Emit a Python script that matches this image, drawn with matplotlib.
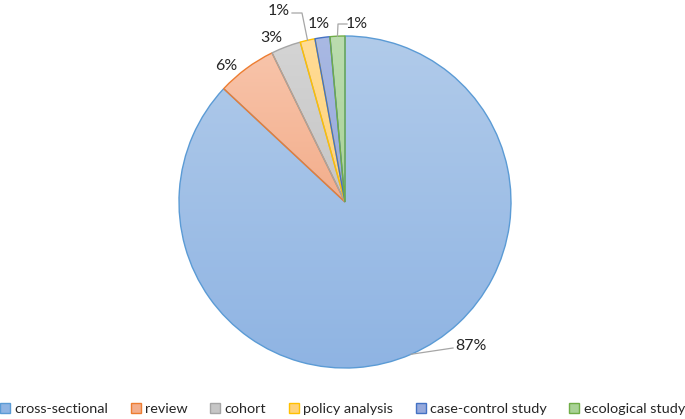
import numpy as np
import matplotlib.pyplot as plt
from matplotlib.colors import LinearSegmentedColormap
from matplotlib.patches import Patch

plt.rcParams['font.family'] = ['Lato', 'DejaVu Sans']

# data
categories = ["cross-sectional", "review", "cohort", "policy analysis",
              "case-control study", "ecological study"]
counts = [60, 4, 2, 1, 1, 1]
pct_labels = ["87%", "6%", "3%", "1%", "1%", "1%"]

# style
edge_colors = ["#5b9bd5", "#ed7d31", "#a5a5a5", "#ffc000", "#4472c4", "#70ad47"]
fill_top = ["#b1cbea", "#f8c4aa", "#d4d4d4", "#ffdc96", "#a9b9e3", "#bbdcaf"]
fill_bottom = ["#8fb4e3", "#f3ae8c", "#c6c6c6", "#ffd27a", "#96a9dc", "#a9d296"]

W, H = 685, 419
fig = plt.figure(figsize=(W / 100, H / 100), dpi=100)
ax = fig.add_axes([0, 0, 1, 1])

cx, cy, r = 345, H - 202, 166
wedges, _ = ax.pie(counts, startangle=90, counterclock=False, center=(cx, cy),
                   radius=r, wedgeprops=dict(linewidth=1.0, zorder=3))

grad = np.linspace(0, 1, 256).reshape(-1, 1)
for w, ec, top, bot in zip(wedges, edge_colors, fill_top, fill_bottom):
    w.set_facecolor("none")
    w.set_edgecolor(ec)
    ext = w.get_path().get_extents()
    cmap = LinearSegmentedColormap.from_list("g", [bot, top])
    im = ax.imshow(grad, extent=(ext.x0, ext.x1, ext.y0, ext.y1), origin="lower",
                   cmap=cmap, aspect="auto", zorder=1, interpolation="bilinear")
    im.set_clip_path(w)


def edge_point(w, rr=1.0):
    a = np.deg2rad((w.theta1 + w.theta2) / 2)
    return cx + r * rr * np.cos(a), cy + r * rr * np.sin(a)


# label layout (image pixel coords, y down) and leader-line elbows
label_pos = [(455, 346, "left"), (226, 66, "center"), (271, 38, "center"),
             (279, 11, "center"), (319, 24, "center"), (357, 24, "center")]
elbows = {0: [(453, 348)], 3: [(292, 13), (302, 13)], 5: [(347, 24), (338, 24)]}

line_col = "#a6a6a6"
for i, (w, txt) in enumerate(zip(wedges, pct_labels)):
    lx, ly, ha = label_pos[i]
    ax.text(lx, H - ly, txt, fontsize=11.5, ha=ha, va="center", color="#262626", zorder=5)
    if i in elbows:
        px, py = edge_point(w)
        pts = [(x, H - y) for x, y in elbows[i]]
        if i == 0:
            xs = [px, pts[0][0]]
            ys = [py, pts[0][1]]
        else:
            xs = [p[0] for p in pts] + [px]
            ys = [p[1] for p in pts] + [py]
        ax.plot(xs, ys, color=line_col, lw=0.9, zorder=4)

ax.set_xlim(0, W)
ax.set_ylim(0, H)
ax.set_aspect("equal")
ax.axis("off")

handles = [Patch(facecolor=fb, edgecolor=ec, linewidth=1.0)
           for fb, ec in zip(fill_bottom, edge_colors)]
fig.legend(handles, categories, loc="center", bbox_to_anchor=(0.5, 1 - 409 / H),
           ncol=6, frameon=False, fontsize=10.4, handlelength=0.7, handleheight=0.7,
           handletextpad=0.3, columnspacing=1.55, labelcolor="#262626")

fig.savefig("out.png", dpi=100)
